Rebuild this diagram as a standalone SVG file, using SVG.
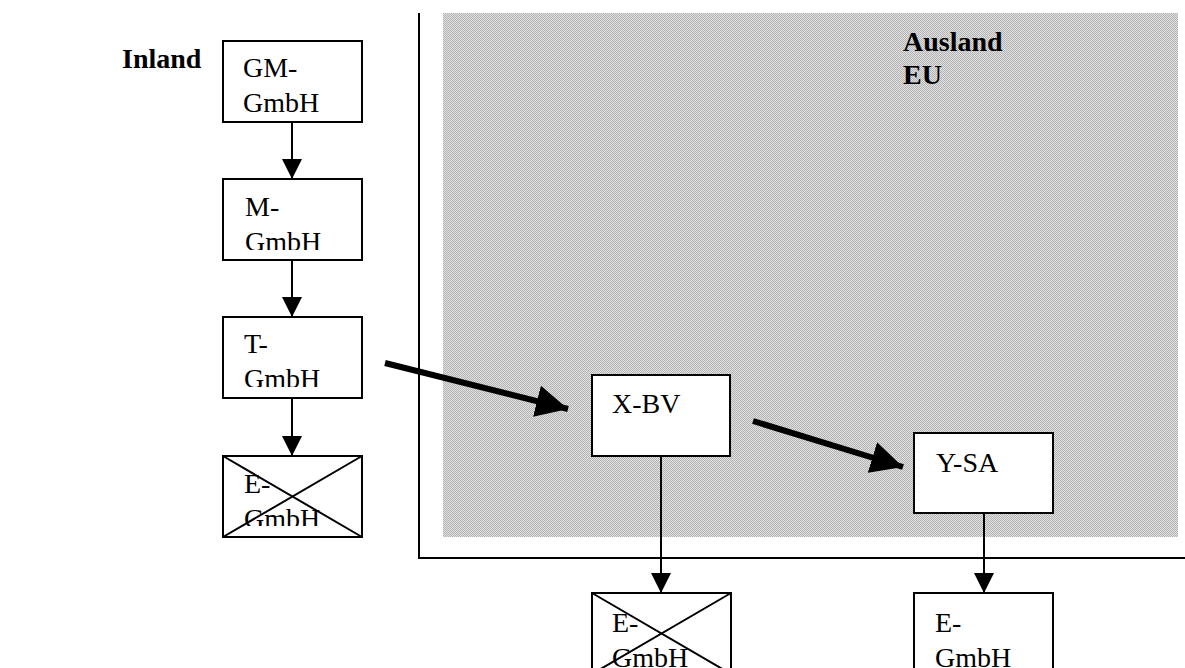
<svg xmlns="http://www.w3.org/2000/svg" width="1185" height="668" viewBox="0 0 1185 668">
<style>
.box{fill:#fff;stroke:#000;stroke-width:2}
.t{font-family:"Liberation Serif","Times New Roman",serif;font-size:28px;fill:#000}
.b{font-family:"Liberation Serif","Times New Roman",serif;font-size:28px;font-weight:bold;fill:#000}
.c{stroke:#000;stroke-width:2;fill:none}
.bold{stroke:#000;stroke-width:6;fill:none}
.x{stroke:#000;stroke-width:2}
</style>
<defs>
<pattern id="dots" width="2" height="2" patternUnits="userSpaceOnUse">
<rect width="2" height="2" fill="#e0e0e0"/>
<rect x="0" y="0" width="1" height="1" fill="#b4b4b4"/>
<rect x="1" y="1" width="1" height="1" fill="#b4b4b4"/>
</pattern>
<marker id="ah" markerUnits="userSpaceOnUse" markerWidth="20" markerHeight="20" refX="20" refY="10" orient="auto">
<path d="M0,0 L20,10 L0,20 Z" fill="#000"/>
</marker>
<marker id="ahb" markerUnits="userSpaceOnUse" markerWidth="33" markerHeight="32" refX="32" refY="16" orient="auto">
<path d="M0,0 L32,16 L0,32 Z" fill="#000"/>
</marker>
<clipPath id="cGM"><rect x="224" y="42" width="137" height="70"/></clipPath>
<clipPath id="cM"><rect x="224" y="180" width="137" height="70"/></clipPath>
<clipPath id="cT"><rect x="224" y="318" width="137" height="69"/></clipPath>
<clipPath id="cE1"><rect x="224" y="457" width="137" height="69"/></clipPath>
</defs>

<g id="background">
<rect x="443" y="13" width="735" height="524" fill="url(#dots)"/>
<line x1="419" y1="13" x2="419" y2="559" stroke="#000" stroke-width="2"/>
<line x1="418" y1="558" x2="1185" y2="558" stroke="#000" stroke-width="2"/>
<text class="b" x="122" y="68">Inland</text>
<text class="b" x="903" y="51">Ausland</text>
<text class="b" x="903" y="84">EU</text>
</g>

<g id="connectors">
<line class="c" x1="292" y1="122" x2="292" y2="179" marker-end="url(#ah)"/>
<line class="c" x1="292" y1="260" x2="292" y2="317" marker-end="url(#ah)"/>
<line class="c" x1="292" y1="398" x2="292" y2="456" marker-end="url(#ah)"/>
<line class="c" x1="661" y1="456" x2="661" y2="593" marker-end="url(#ah)"/>
<line class="c" x1="984" y1="513" x2="984" y2="593" marker-end="url(#ah)"/>
<line class="bold" x1="385" y1="363" x2="568" y2="409" marker-end="url(#ahb)"/>
<line class="bold" x1="753" y1="421" x2="903" y2="467" marker-end="url(#ahb)"/>
</g>

<g id="gm-gmbh">
<rect class="box" x="223" y="41" width="139" height="81"/>
<text class="t" clip-path="url(#cGM)"><tspan x="243" y="77">GM-</tspan><tspan x="243" y="112">GmbH</tspan></text>
</g>

<g id="m-gmbh">
<rect class="box" x="223" y="179" width="139" height="81"/>
<text class="t" clip-path="url(#cM)"><tspan x="245" y="216">M-</tspan><tspan x="245" y="251">GmbH</tspan></text>
</g>

<g id="t-gmbh">
<rect class="box" x="223" y="317" width="139" height="81"/>
<text class="t" clip-path="url(#cT)"><tspan x="244" y="353">T-</tspan><tspan x="244" y="388">GmbH</tspan></text>
</g>

<g id="e-gmbh-inland">
<rect class="box" x="223" y="456" width="139" height="81"/>
<text class="t" clip-path="url(#cE1)"><tspan x="244" y="493">E-</tspan><tspan x="244" y="528">GmbH</tspan></text>
<line class="x" x1="223" y1="456" x2="362" y2="537"/>
<line class="x" x1="362" y1="456" x2="223" y2="537"/>
</g>

<g id="x-bv">
<rect class="box" x="592" y="375" width="138" height="81"/>
<text class="t" x="612" y="413">X-BV</text>
</g>

<g id="y-sa">
<rect class="box" x="914" y="433" width="139" height="80"/>
<text class="t" x="936" y="472">Y-SA</text>
</g>

<g id="e-gmbh-x">
<rect class="box" x="592" y="593" width="139" height="81"/>
<text class="t"><tspan x="612" y="632">E-</tspan><tspan x="612" y="667">GmbH</tspan></text>
<line class="x" x1="592" y1="593" x2="731" y2="674"/>
<line class="x" x1="731" y1="593" x2="592" y2="674"/>
</g>

<g id="e-gmbh-y">
<rect class="box" x="914" y="593" width="139" height="81"/>
<text class="t"><tspan x="935" y="632">E-</tspan><tspan x="935" y="667">GmbH</tspan></text>
</g>
</svg>
